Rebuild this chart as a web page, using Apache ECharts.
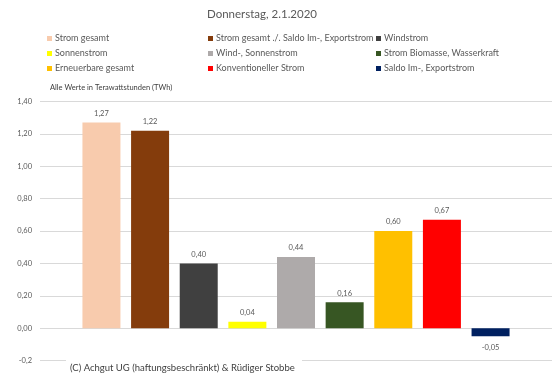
<!DOCTYPE html>
<html>
<head>
<meta charset="utf-8">
<script src="https://cdn.jsdelivr.net/npm/echarts@6/dist/echarts.min.js"></script>
<style>html,body{margin:0;padding:0;background:#fff}#c{width:552px;height:384px}</style>
</head>
<body>
<div id="c"></div>
<script>
var seriesNames = [
  'Strom gesamt', 'Strom gesamt ./. Saldo Im-, Exportstrom', 'Windstrom',
  'Sonnenstrom', 'Wind-, Sonnenstrom', 'Strom Biomasse, Wasserkraft',
  'Erneuerbare gesamt', 'Konventioneller Strom', 'Saldo Im-, Exportstrom'
];
var seriesValues = [1.27, 1.22, 0.40, 0.04, 0.44, 0.16, 0.60, 0.67, -0.05];
var seriesColors = ['#F8CBAD', '#843C0C', '#404040', '#FFFF00', '#AEAAAA', '#375623', '#FFC000', '#FF0000', '#002060'];
var categories = [''];
var yTicks = [-0.2, 0, 0.2, 0.4, 0.6, 0.8, 1.0, 1.2, 1.4];

var FONT = 'Lato';
var chart = echarts.init(document.getElementById('c'), null, {renderer: 'canvas'});

function fmt(v) { return v.toFixed(2).replace('.', ','); }

var series = seriesNames.map(function (n, i) {
  return {
    name: n,
    type: 'bar',
    data: [seriesValues[i]],
    barWidth: 38,
    barGap: '28%',
    itemStyle: {color: seriesColors[i]},
    label: {
      show: true,
      position: seriesValues[i] < 0 ? 'bottom' : 'top',
      distance: seriesValues[i] < 0 ? 7 : 5,
      color: '#595959',
      fontSize: 7.5,
      fontFamily: FONT,
      formatter: function (p) { return fmt(p.value); }
    }
  };
});

function legendCol(idx, left) {
  return {
    orient: 'vertical',
    left: left,
    top: 28,
    itemWidth: 5,
    itemHeight: 5,
    itemGap: 4,
    icon: 'rect',
    data: [seriesNames[idx], seriesNames[idx + 3], seriesNames[idx + 6]],
    textStyle: {color: '#595959', fontSize: 9, fontFamily: FONT, lineHeight: 11, padding: [0, 0, 0, -2]},
    selectedMode: false
  };
}

chart.setOption({
  animation: false,
  title: {
    text: 'Donnerstag, 2.1.2020',
    left: 202, top: 3,
    textStyle: {color: '#595959', fontSize: 11.5, fontWeight: 'normal', fontFamily: FONT}
  },
  legend: [legendCol(0, 42), legendCol(1, 203), legendCol(2, 371)],
  grid: {left: 40, right: 0, top: 101.5, bottom: 23.5, containLabel: false},
  xAxis: {
    type: 'category', data: categories,
    axisLine: {show: false}, axisTick: {show: false}, axisLabel: {show: false}
  },
  yAxis: {
    type: 'value', min: yTicks[0], max: yTicks[yTicks.length - 1], interval: 0.2,
    axisLine: {show: false}, axisTick: {show: false},
    splitLine: {lineStyle: {color: '#D9D9D9', width: 1}},
    axisLabel: {
      color: '#595959', fontSize: 7.5, fontFamily: FONT, margin: 8,
      formatter: function (v) {
        var r = Math.round(v * 100) / 100;
        if (r === -0.2) return '-0,2';
        return fmt(r);
      }
    }
  },
  graphic: [
    {type: 'rect', left: 66, top: 360, shape: {width: 236, height: 16}, style: {fill: '#fff'}, z: 10},
    {type: 'text', left: 70, top: 363, z: 11,
      style: {text: '(C) Achgut UG (haftungsbeschränkt) & Rüdiger Stobbe', fill: '#404040', font: '9.5px Lato'}},
    {type: 'text', left: 50, top: 84, z: 11,
      style: {text: 'Alle Werte in Terawattstunden (TWh)', fill: '#404040', font: '7.5px Lato'}}
  ],
  series: series
});
</script>
</body>
</html>
